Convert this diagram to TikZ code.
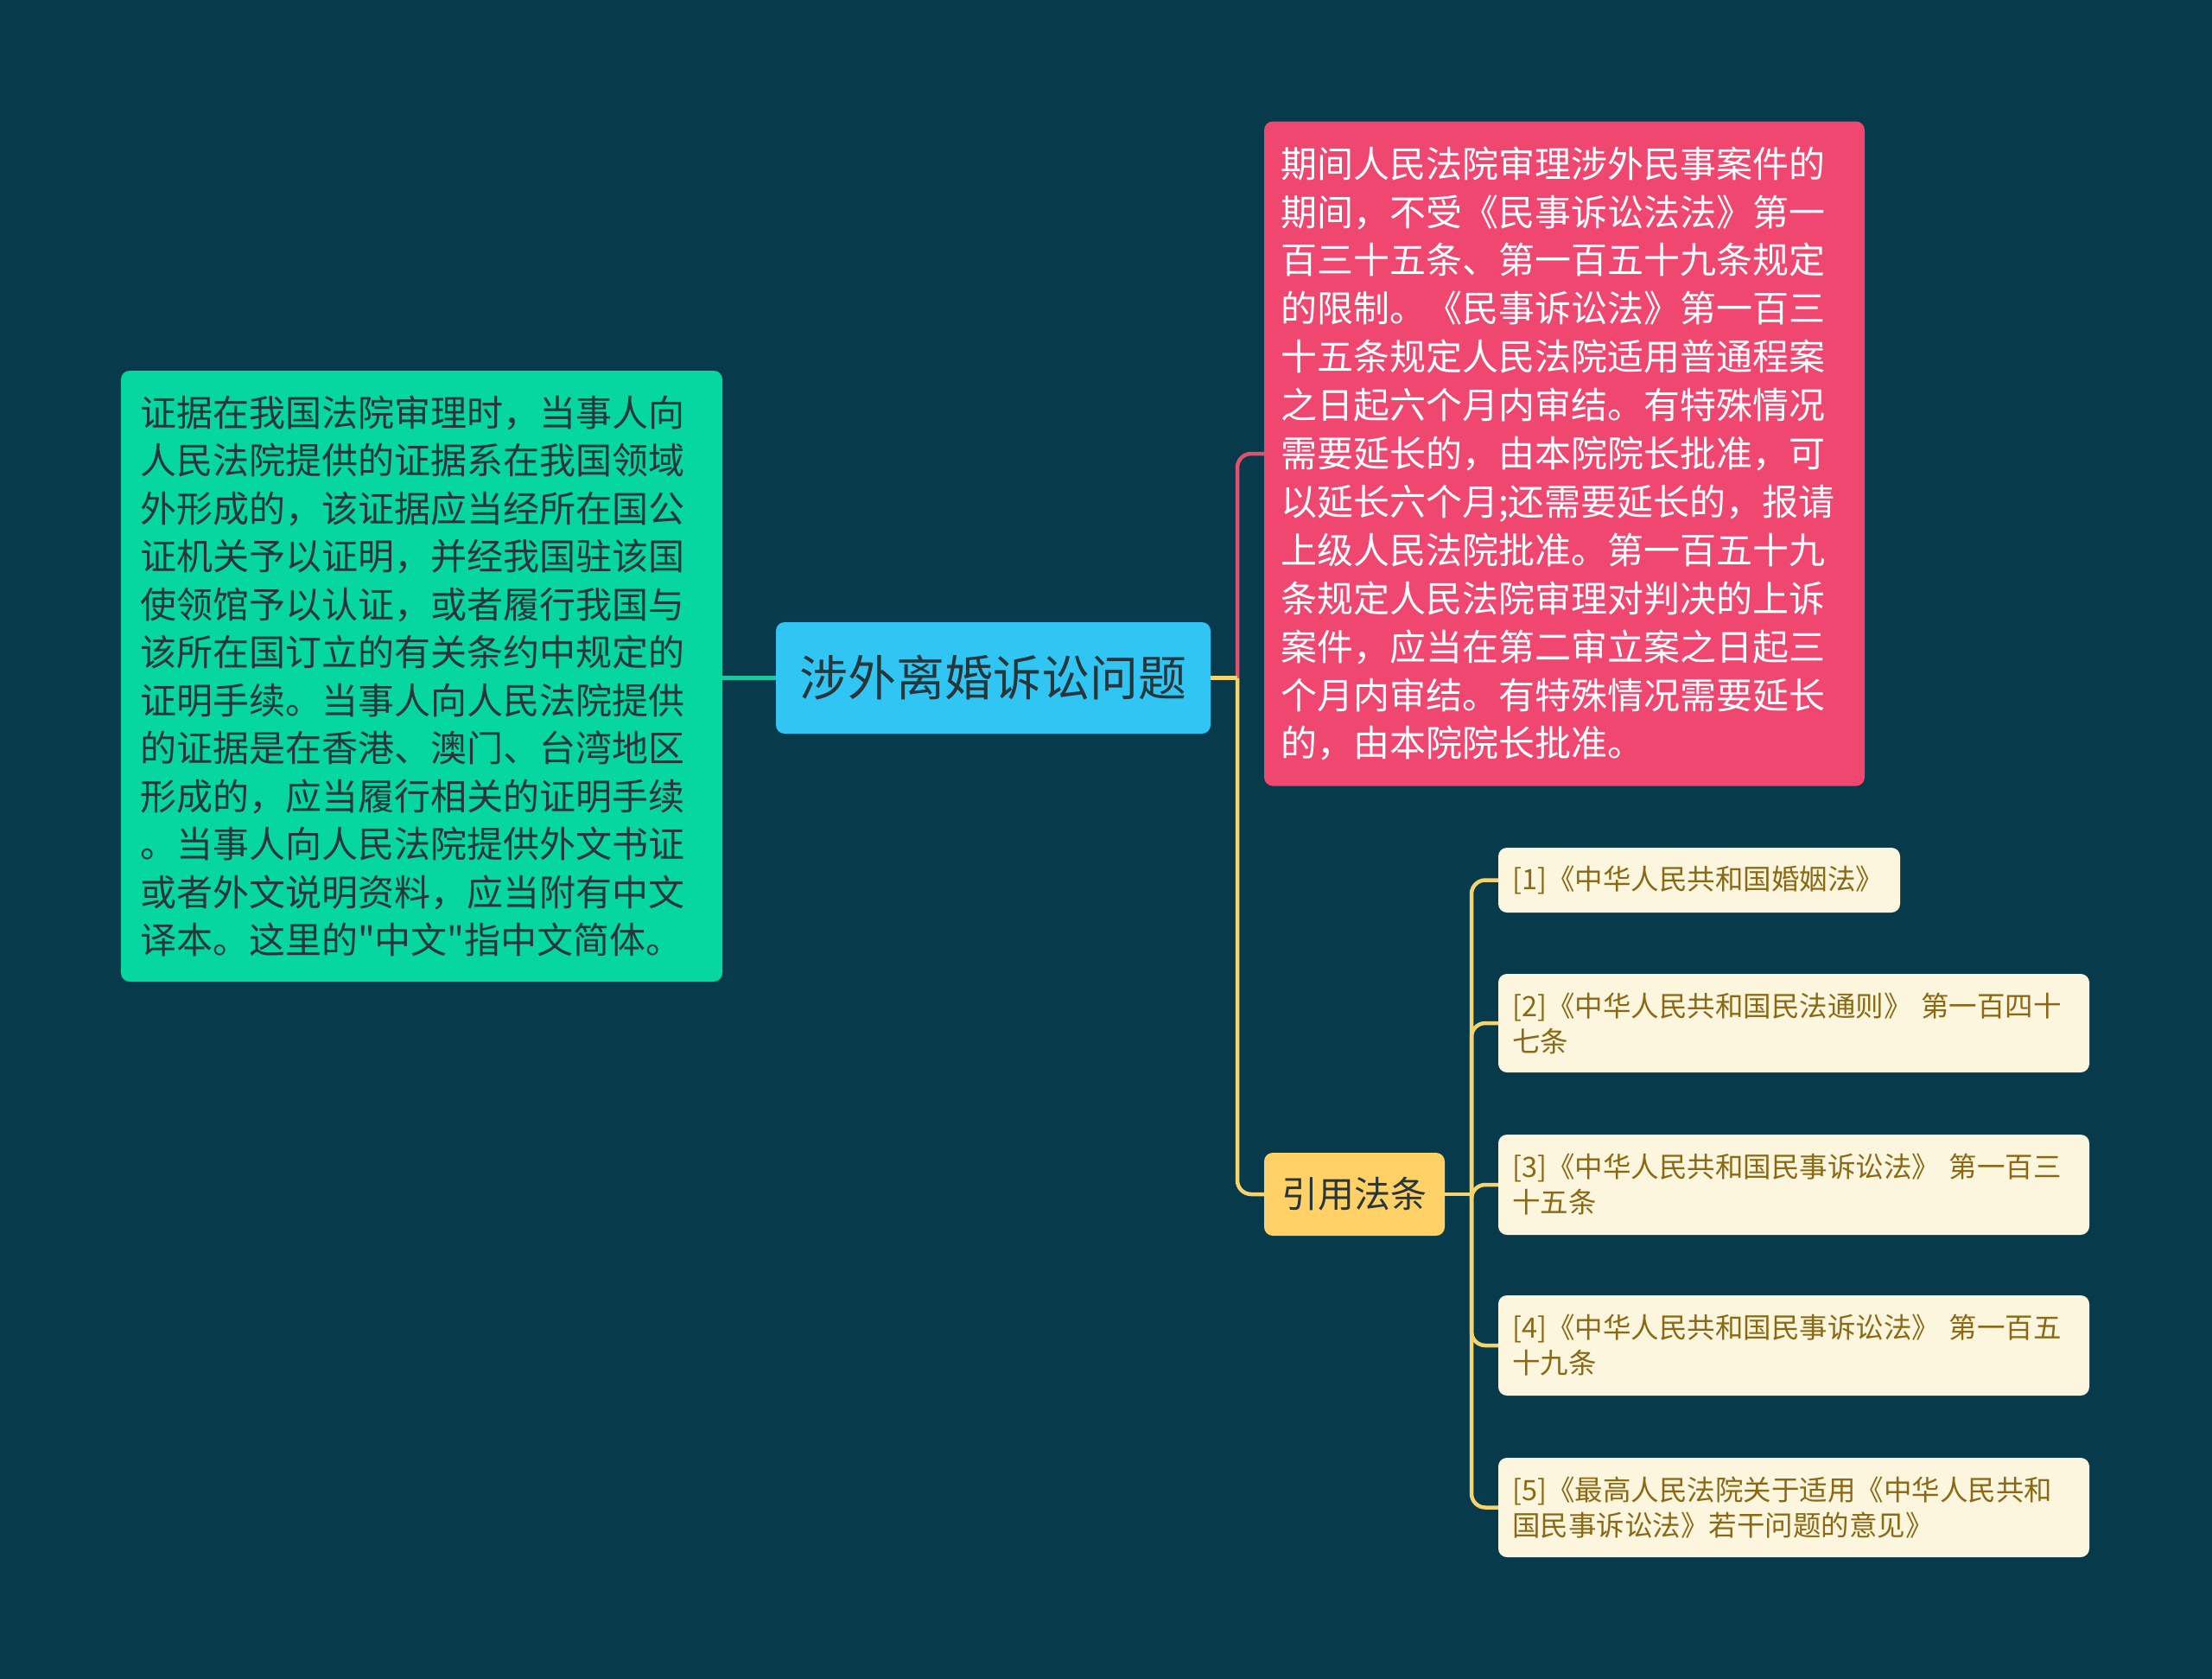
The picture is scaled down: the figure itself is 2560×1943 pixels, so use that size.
\documentclass[tikz,border=0pt]{standalone}
\usepackage{fontspec}
\setmainfont{Noto Sans CJK SC}[Ligatures=TeXOff]
\definecolor{bg}{HTML}{073B4C}
\definecolor{gfill}{HTML}{06D6A0}
\definecolor{pfill}{HTML}{EF476F}
\definecolor{yfill}{HTML}{FFD166}
\definecolor{cfill}{HTML}{30C5F3}
\definecolor{rfill}{HTML}{FDF6DE}
\definecolor{rtext}{HTML}{8B6914}
\definecolor{dtext}{HTML}{26363A}
\definecolor{gline}{HTML}{1BC9A0}
\definecolor{pline}{HTML}{E0506F}
\definecolor{yline}{HTML}{F7D36E}
\tikzset{
  boxbase/.style={rounded corners=10pt, align=left, anchor=center, inner ysep=0pt},
  greenbox/.style={boxbase, fill=gfill, text=dtext, text width=652pt, inner xsep=22pt,
    minimum height=707pt, font=\fontsize{42}{55.5}\selectfont},
  pinkbox/.style={boxbase, fill=pfill, text=white, text width=657pt, inner xsep=19pt,
    minimum height=769pt, font=\fontsize{42}{55.9}\selectfont},
  centerbox/.style={boxbase, fill=cfill, text=dtext, align=center, inner xsep=26pt,
    minimum height=129pt, minimum width=503pt, font=\fontsize{56}{64}\selectfont},
  yellowbox/.style={boxbase, fill=yfill, text=dtext, align=center, inner xsep=20pt,
    minimum height=96pt, minimum width=209pt, font=\fontsize{42}{50}\selectfont},
  refbox/.style={boxbase, fill=rfill, text=rtext, inner xsep=16pt,
    font=\fontsize{32.5}{41}\selectfont},
  conn/.style={line width=4.5pt},
  gconn/.style={conn, draw=gline},
  pconn/.style={conn, draw=pline, rounded corners=16pt},
  yconn/.style={conn, draw=yline},
  yconnr/.style={conn, draw=yline, rounded corners=16pt}
}
\begin{document}
\begin{tikzpicture}[x=1pt,y=-1pt]
\useasboundingbox (0,0) rectangle (2560,1943);
\fill[bg] (0,0) rectangle (2560,1943);

\node[centerbox] (c) at (1149.5,784.5) {涉外离婚诉讼问题};

\node[greenbox] (g) at (488,782.5) {证据在我国法院审理时，当事人向\\人民法院提供的证据系在我国领域\\外形成的，该证据应当经所在国公\\证机关予以证明，并经我国驻该国\\使领馆予以认证，或者履行我国与\\该所在国订立的有关条约中规定的\\证明手续。当事人向人民法院提供\\的证据是在香港、澳门、台湾地区\\形成的，应当履行相关的证明手续\\。当事人向人民法院提供外文书证\\或者外文说明资料，应当附有中文\\译本。这里的"中文"指中文简体。};

\node[pinkbox] (p) at (1810.5,525) {期间人民法院审理涉外民事案件的\\期间，不受《民事诉讼法法》第一\\百三十五条、第一百五十九条规定\\的限制。《民事诉讼法》第一百三\\十五条规定人民法院适用普通程案\\之日起六个月内审结。有特殊情况\\需要延长的，由本院院长批准，可\\以延长六个月;还需要延长的，报请\\上级人民法院批准。第一百五十九\\条规定人民法院审理对判决的上诉\\案件，应当在第二审立案之日起三\\个月内审结。有特殊情况需要延长\\的，由本院院长批准。};

\node[yellowbox] (y) at (1567.5,1382) {引用法条};

\node[refbox, text width=433pt, minimum height=75pt] (r1) at (1966.5,1018.5) {[1]《中华人民共和国婚姻法》};
\node[refbox, text width=652pt, minimum height=114pt] (r2) at (2076,1184) {[2]《中华人民共和国民法通则》 第一百四十\\七条};
\node[refbox, text width=652pt, minimum height=116pt] (r3) at (2076,1371) {[3]《中华人民共和国民事诉讼法》 第一百三\\十五条};
\node[refbox, text width=652pt, minimum height=116pt] (r4) at (2076,1557) {[4]《中华人民共和国民事诉讼法》 第一百五\\十九条};
\node[refbox, text width=652pt, minimum height=115pt] (r5) at (2076,1744.5) {[5]《最高人民法院关于适用《中华人民共和\\国民事诉讼法》若干问题的意见》};

\coordinate (j1) at (1432,784.5);
\coordinate (j2) at (1703,1382);

\draw[gconn] (c.west) -- (c.west -| g.east);
\draw[pconn] (j1) |- (p.west);
\draw[yconnr] (j1) |- (y.west);
\draw[yconn] (c.east) -- (j1);
\draw[yconn] (y.east) -- (j2);
\foreach \r in {r1,r2,r3,r4,r5} {
  \draw[yconnr] (j2) |- (\r.west);
}
\end{tikzpicture}
\end{document}
